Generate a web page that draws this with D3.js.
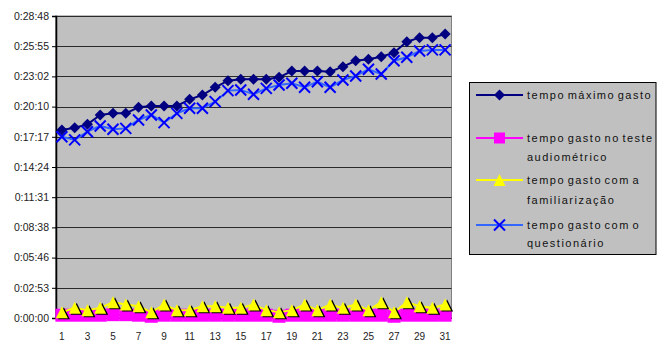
<!DOCTYPE html>
<html>
<head>
<meta charset="utf-8">
<script src="https://cdn.jsdelivr.net/npm/d3@7"></script>
<style>
  html, body { margin: 0; padding: 0; background: #fff; }
  svg { display: block; }
  text { font-family: "Liberation Sans", Arial, sans-serif; }
</style>
</head>
<body>
<svg id="chart" width="657" height="341"></svg>
<script>
// ---------- data ----------
const categories = d3.range(1, 32);
const seriesNames = [
  ["tempo máximo gasto"],
  ["tempo gasto no teste", "audiométrico"],
  ["tempo gasto com a", "familiarização"],
  ["tempo gasto com o", "questionário"]
];
const tempoMaximo = ["17:56","18:09","18:28","19:22","19:31","19:31","20:06","20:13","20:13","20:13",
  "20:51","21:16","22:00","22:38","22:46","22:46","22:46","22:57","23:33","23:33",
  "23:33","23:29","23:58","24:32","24:40","24:55","25:18","26:21","26:44","26:44","27:05"];
const tempoAudiometrico = ["0:16","0:16","0:16","0:16","0:19","0:19","0:16","0:10","0:16","0:16",
  "0:16","0:16","0:16","0:16","0:16","0:16","0:16","0:10","0:16","0:16",
  "0:16","0:16","0:16","0:16","0:16","0:16","0:10","0:16","0:16","0:16","0:16"];
const tempoFamiliarizacao = ["0:33","0:58","0:45","0:58","1:30","1:17","1:07","0:33","1:17","0:45",
  "0:45","1:07","1:07","0:58","0:58","1:17","0:45","0:33","0:45","1:17",
  "0:45","1:17","0:58","1:17","0:45","1:30","0:33","1:30","1:07","0:58","1:17"];
const tempoQuestionario = ["17:17","16:59","17:46","18:19","18:00","18:05","18:53","19:22","18:38","19:31",
  "20:00","20:00","20:38","21:41","21:45","21:20","21:54","22:13","22:23","22:00",
  "22:32","22:00","22:42","23:05","23:43","23:16","24:32","24:52","25:28","25:34","25:34"];
const yTickLabels = ["0:00:00","0:02:53","0:05:46","0:08:38","0:11:31","0:14:24",
  "0:17:17","0:20:10","0:23:02","0:25:55","0:28:48"];
const yMaxSeconds = 1728;

// ---------- helpers ----------
const toSec = s => { const p = s.split(":").map(Number); return p[0] * 60 + p[1]; };

const svg = d3.select("#chart");
const L = 55.5, R = 451.5, T = 16, B = 318;

const x = d3.scaleBand().domain(categories).range([L, R]).padding(0);
const y = d3.scaleLinear().domain([0, yMaxSeconds]).range([B, T]);
const cx = c => x(c) + x.bandwidth() / 2;

// plot background
svg.append("rect").attr("x", L).attr("y", T).attr("width", R - L).attr("height", B - T)
  .attr("fill", "#C0C0C0").attr("stroke", "#808080").attr("stroke-width", 1);

const tickVals = yTickLabels.map((d, i) => i * yMaxSeconds / (yTickLabels.length - 1));

// gridlines
svg.append("g").selectAll("line").data(tickVals.slice(1)).join("line")
  .attr("x1", L).attr("x2", R)
  .attr("y1", d => Math.round(y(d)) + 0.5).attr("y2", d => Math.round(y(d)) + 0.5)
  .attr("stroke", "#2a2a2a").attr("stroke-width", 1);

// y axis
const yAxis = d3.axisLeft(y).tickValues(tickVals)
  .tickFormat((d, i) => yTickLabels[i]).tickSize(4).tickPadding(3);
const gy = svg.append("g").attr("transform", `translate(${L + 0.5},0)`).call(yAxis);
gy.select(".domain").attr("stroke", "#000").attr("stroke-width", 1.5);
gy.selectAll(".tick line").attr("stroke", "#000");
gy.selectAll(".tick text").attr("font-size", "10.5px").attr("fill", "#222")
  .attr("font-family", "'Liberation Sans', Arial, sans-serif");

// x axis
const xAxis = d3.axisBottom(x).tickValues(categories.filter(c => c % 2 === 1))
  .tickSize(0).tickPadding(15);
const gx = svg.append("g").attr("transform", `translate(0,${B})`).call(xAxis);
gx.select(".domain").attr("stroke", "#000");
gx.selectAll(".tick text").attr("font-size", "10px").attr("fill", "#222")
  .attr("font-family", "'Liberation Sans', Arial, sans-serif");

// ---------- marker shapes ----------
function drawMarker(g, type, px, py, color, legend) {
  if (type === "diamond") {
    g.append("path").attr("d", `M${px},${py - 5.5}L${px + 5.5},${py}L${px},${py + 5.5}L${px - 5.5},${py}Z`)
      .attr("fill", color);
  } else if (type === "square") {
    const s = legend ? 11 : 13;
    g.append("rect").attr("x", px - s / 2).attr("y", py - s / 2).attr("width", s).attr("height", s)
      .attr("fill", color);
  } else if (type === "triangle") {
    const tri = (ox, oy) => `M${px + ox},${py - 6 + oy}L${px + 6 + ox},${py + 6 + oy}L${px - 6 + ox},${py + 6 + oy}Z`;
    if (!legend) g.append("path").attr("d", tri(2, 1)).attr("fill", "#000");
    g.append("path").attr("d", tri(0, 0)).attr("fill", color);
  } else if (type === "x") {
    const s = 5.5;
    g.append("path").attr("d", `M${px - s},${py - s}L${px + s},${py + s}M${px + s},${py - s}L${px - s},${py + s}`)
      .attr("stroke", color).attr("stroke-width", 2).attr("fill", "none");
  }
}

const series = [
  { values: tempoMaximo, line: "#000080", marker: "#000080", type: "diamond" },
  { values: tempoAudiometrico, line: "#FF00FF", marker: "#FF00FF", type: "square" },
  { values: tempoFamiliarizacao, line: "#FFFF00", marker: "#FFFF00", type: "triangle" },
  { values: tempoQuestionario, line: "#3366FF", marker: "#0000FF", type: "x" }
];

const line = d3.line().x(d => cx(d.c)).y(d => y(d.v));
series.forEach(s => {
  const pts = s.values.map((v, i) => ({ c: categories[i], v: toSec(v) }));
  const g = svg.append("g");
  g.append("path").datum(pts).attr("d", line).attr("fill", "none")
    .attr("stroke", s.line).attr("stroke-width", 2);
  pts.forEach(p => drawMarker(g, s.type, cx(p.c), y(p.v), s.marker, false));
});

// ---------- legend ----------
const lg = svg.append("g");
lg.append("rect").attr("x", 469.5).attr("y", 82.5).attr("width", 186.5).attr("height", 172)
  .attr("fill", "#C0C0C0").attr("stroke", "#000").attr("stroke-width", 1);
const legendY = [[95], [138, 157], [180, 200], [225, 243]];
series.forEach((s, i) => {
  const yy = legendY[i][0];
  lg.append("line").attr("x1", 476).attr("x2", 523).attr("y1", yy).attr("y2", yy)
    .attr("stroke", s.line).attr("stroke-width", 2);
  drawMarker(lg, s.type, 499.5, yy, s.marker, true);
  seriesNames[i].forEach((t, j) => {
    lg.append("text").attr("x", 527).attr("y", legendY[i][j]).attr("dy", "0.36em")
      .attr("font-size", "11px").attr("fill", "#111")
      .attr("letter-spacing", "1.5px").attr("word-spacing", "-2px").text(t);
  });
});
</script>
</body>
</html>
